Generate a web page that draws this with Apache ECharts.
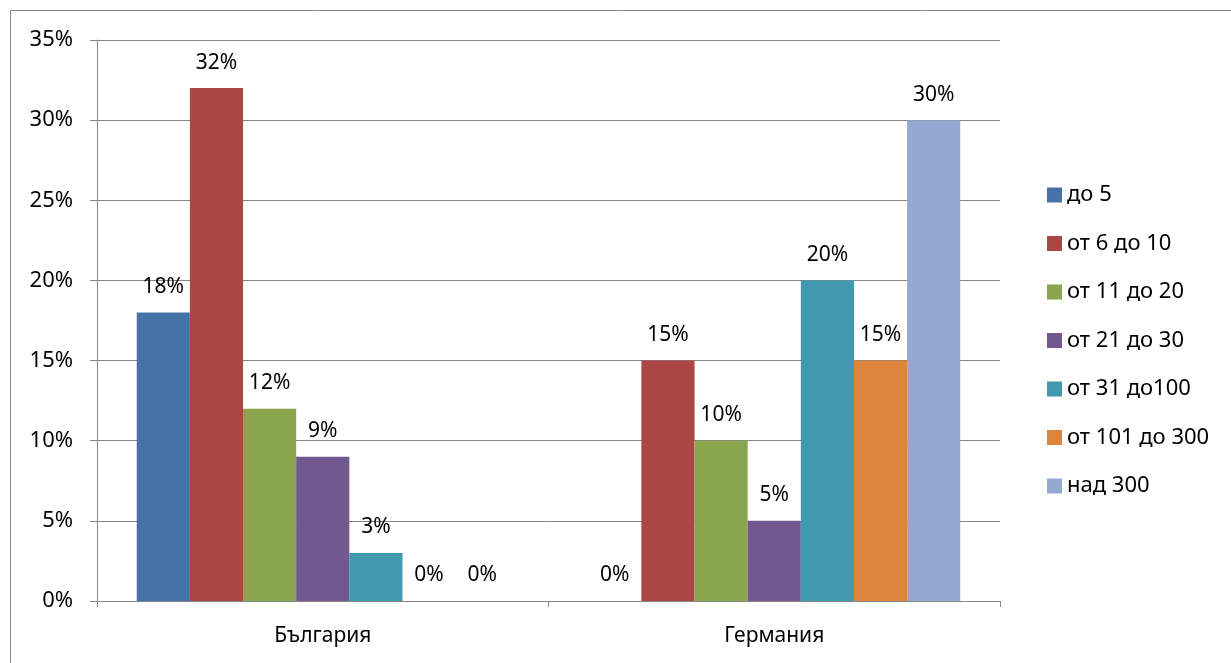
<!DOCTYPE html>
<html><head><meta charset="utf-8">
<script src="https://cdn.jsdelivr.net/npm/echarts@6/dist/echarts.min.js"></script>
<style>html,body{margin:0;padding:0;background:#fff}#c{width:1231px;height:663px}</style>
</head><body><div id="c"></div>
<script>
const categories = ['България', 'Германия'];
const seriesNames = ['до 5', 'от 6 до 10', 'от 11 до 20', 'от 21 до 30', 'от 31 до100', 'от 101 до 300', 'над 300'];
const bulgaria = [18, 32, 12, 9, 3, 0, 0];
const germany = [0, 15, 10, 5, 20, 15, 30];
const colors = ['#4572A7', '#AA4643', '#89A54E', '#71588F', '#4198AF', '#DB843D', '#93A9CF'];
const yTicks = [0, 5, 10, 15, 20, 25, 30, 35];

const FONT = 'Noto Sans';
const FS = 21;
const chart = echarts.init(document.getElementById('c'));
chart.setOption({
  animation: false,
  textStyle: { fontFamily: FONT },
  graphic: [{
    type: 'rect', shape: { x: 10.5, y: 10.5, width: 1400, height: 800 },
    style: { fill: 'none', stroke: '#868686', lineWidth: 1 }, silent: true
  }],
  grid: { left: 97, right: 231, top: 40, bottom: 62 },
  legend: {
    orient: 'vertical', left: 1042, top: 179,
    itemWidth: 15, itemHeight: 15, itemGap: 26.5, itemStyle: { borderWidth: 0 },
    icon: 'rect',
    textStyle: { fontFamily: FONT, fontSize: 22, color: '#000', lineHeight: 22, padding: [0, 0, 0, 0] },
    data: seriesNames
  },
  xAxis: {
    type: 'category', data: categories,
    axisLine: { lineStyle: { color: '#868686' } },
    axisTick: { show: true, length: 6, lineStyle: { color: '#868686' } },
    axisLabel: { fontFamily: FONT, fontSize: FS, color: '#000', margin: 25 }
  },
  yAxis: {
    type: 'value', min: yTicks[0], max: yTicks[yTicks.length - 1], interval: 5,
    axisLine: { show: true, lineStyle: { color: '#868686' } },
    axisTick: { show: true, length: 7, lineStyle: { color: '#868686' } },
    splitLine: { lineStyle: { color: '#868686' } },
    axisLabel: { fontFamily: FONT, fontSize: 22, color: '#000', margin: 24, formatter: '{value}%' }
  },
  series: seriesNames.map((n, i) => ({
    name: n, type: 'bar',
    data: [bulgaria[i], germany[i]],
    itemStyle: { color: colors[i] },
    barGap: '0%', barCategoryGap: '17.6%',
    label: { show: true, position: 'top', distance: 15, formatter: '{c}%', fontFamily: FONT, fontSize: FS, color: '#000' }
  }))
});
</script></body></html>
